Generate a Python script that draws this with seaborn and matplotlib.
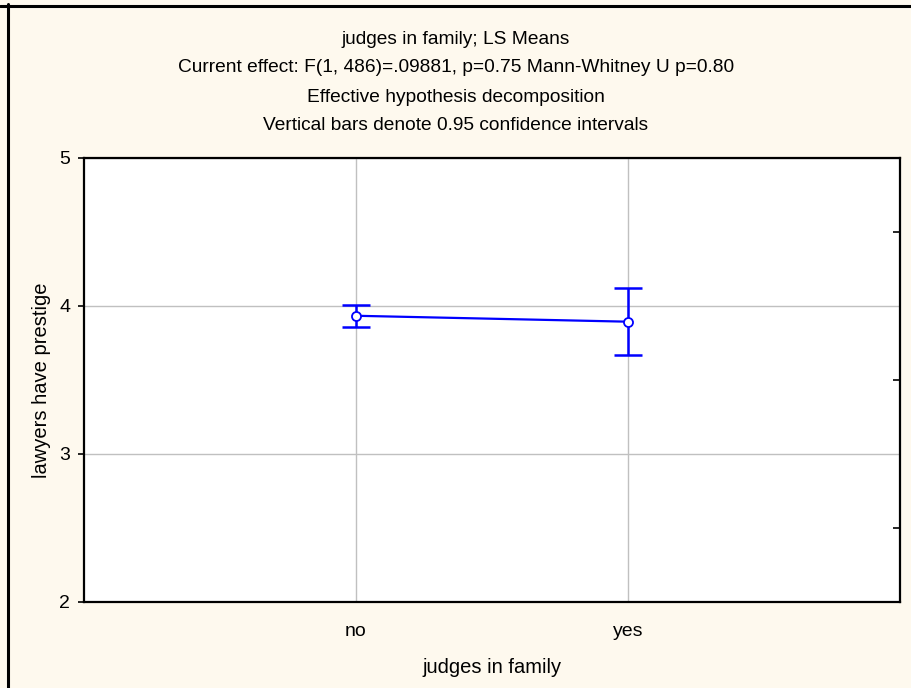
import matplotlib
matplotlib.use("Agg")
import matplotlib.pyplot as plt
import seaborn as sns
import pandas as pd
import numpy as np
from matplotlib.lines import Line2D
from matplotlib.ticker import MultipleLocator

categories = ["no", "yes"]
means = [3.934, 3.894]
ci_low = [3.858, 3.667]
ci_high = [4.007, 4.124]

title_lines = [
    "judges in family; LS Means",
    "Current effect: F(1, 486)=.09881, p=0.75 Mann-Whitney U p=0.80",
    "Effective hypothesis decomposition",
    "Vertical bars denote 0.95 confidence intervals",
]

sns.set_style("white")
plt.rcParams["font.family"] = ["Liberation Sans", "DejaVu Sans"]

bg = "#fef9ee"
blue = "#0000ff"
fig = plt.figure(figsize=(9.12, 6.88), dpi=100, facecolor=bg)
ax = fig.add_axes([84/912, 1-602/688, 816/912, 444/688])
ax.set_facecolor("white")

df = pd.DataFrame({"cat": categories, "mean": means})
sns.pointplot(data=df, x="cat", y="mean", order=categories, color=blue,
              errorbar=None, markers="o", linestyles="-", ax=ax,
              linewidth=1.6, markersize=6.5,
              markerfacecolor="white", markeredgecolor=blue, markeredgewidth=1.3)

xs = np.arange(len(categories))
yerr = np.array([np.array(means) - np.array(ci_low), np.array(ci_high) - np.array(means)])
ax.errorbar(xs, means, yerr=yerr, fmt="none", ecolor=blue, elinewidth=1.8,
            capsize=10.4, capthick=1.8, zorder=2.5)
for ln in ax.lines:
    if ln.get_marker() == "o":
        ln.set_zorder(5)

ax.set_xlim(-1, 2)
ax.set_ylim(2, 5)
ax.set_yticks([2, 3, 4, 5])
ax.set_xticks(xs)
ax.set_xticklabels(categories)
ax.grid(True, color="#c0c0c0", linewidth=1)
ax.set_axisbelow(True)
for spine in ax.spines.values():
    spine.set_visible(True)
    spine.set_color("black")
    spine.set_linewidth(1.6)

ax.tick_params(axis="y", which="major", direction="out", length=4, width=1.2,
               left=True, right=False, labelsize=14, pad=6, colors="black")
ax.tick_params(axis="x", which="major", direction="in", length=0, labelsize=14, pad=15,
               colors="black")
ax.yaxis.set_minor_locator(MultipleLocator(0.5))
ax.tick_params(axis="y", which="minor", direction="in", length=5, width=1.4,
               left=False, right=True)

ax.set_xlabel("judges in family", fontsize=14.5, labelpad=13, color="black")
ax.set_ylabel("lawyers have prestige", fontsize=14.5, labelpad=6, color="black")

ys = [39, 68, 97, 126]
for t, y in zip(title_lines, ys):
    fig.text(0.5, 1 - y/688, t, ha="center", va="center", fontsize=13.8, color="black")

fig.add_artist(Line2D([0, 1], [1 - 5.5/688, 1 - 5.5/688], transform=fig.transFigure,
                      color="black", linewidth=2.2))
fig.add_artist(Line2D([8.5/912, 8.5/912], [0, 1 - 4/688], transform=fig.transFigure,
                      color="black", linewidth=2.2))

fig.savefig("out.png", dpi=100, facecolor=bg)
